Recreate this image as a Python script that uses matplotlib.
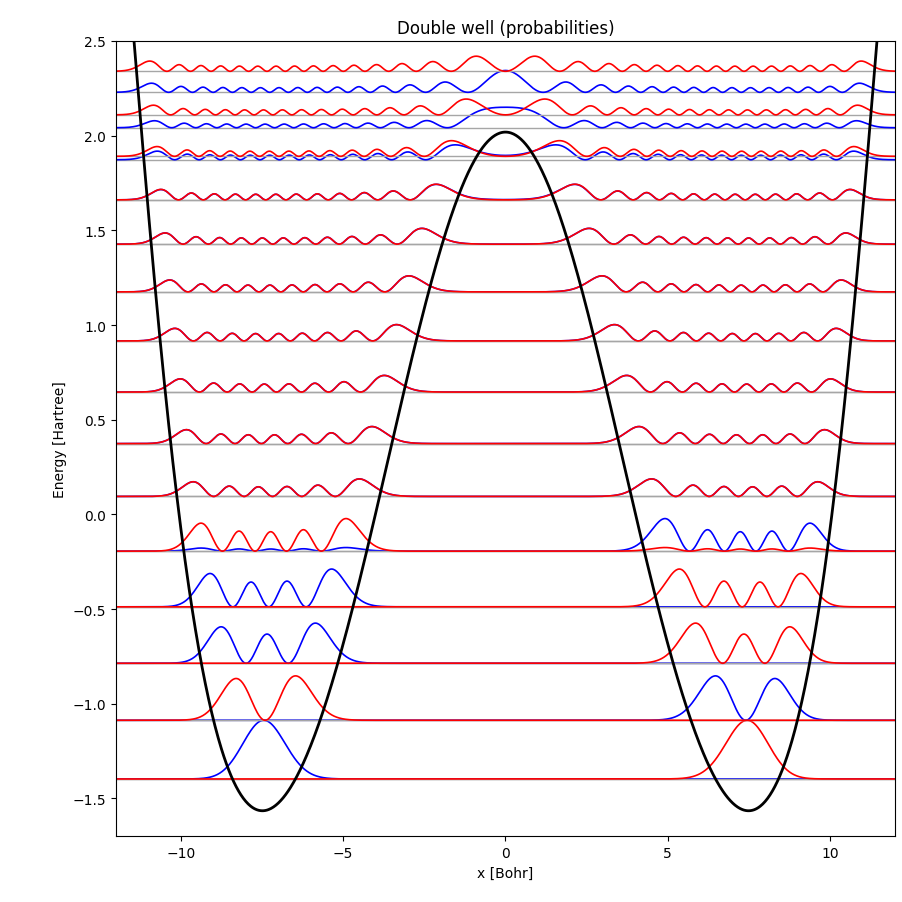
import numpy as np
import matplotlib
matplotlib.use("Agg")
import matplotlib.pyplot as plt

# black potential curve: |x| in Bohr, V in Hartree
pot_x = [0.0, 1.49, 2.93, 3.50, 3.86, 4.27, 4.70, 5.11, 5.71, 6.48, 7.46,
         8.33, 9.00, 9.39, 9.67, 9.91, 10.13, 10.94, 11.04, 11.45]
pot_v = [2.00, 1.66, 0.837, 0.396, 0.093, -0.194, -0.488, -0.786, -1.087, -1.397, -1.559,
         -1.397, -1.087, -0.786, -0.488, -0.194, 0.093, 1.505, 1.664, 2.50]

# gray energy lines, one per state (pairs are near-degenerate)
levels = [-1.397, -1.397, -1.087, -1.087, -0.786, -0.786, -0.488, -0.488,
          -0.194, -0.194, 0.095, 0.095, 0.374, 0.374, 0.646, 0.646,
          0.916, 0.916, 1.175, 1.175, 1.427, 1.427, 1.661, 1.661,
          1.873, 1.891, 2.042, 2.110, 2.229, 2.340]

# share of the blue state of each pair that sits in the left well
blue_left = [1.0, 0.0, 1.0, 1.0, 0.1, 0.5, 0.5, 0.5, 0.5, 0.5, 0.5, 0.5]

mass = 4.0
ground_peak = 0.31   # height of the lowest blue bump above its line

# smooth even curve through the read points
coef = np.polyfit(np.array(pot_x) ** 2, pot_v, 5)
x = np.linspace(-12.5, 12.5, 1001)
dx = x[1] - x[0]
V = np.polyval(coef, x ** 2)

# finite difference hamiltonian, only used for the shapes of the states
n = len(x)
t = 1.0 / (2 * mass * dx ** 2)
H = np.diag(V + 2 * t) - t * np.eye(n, k=1) - t * np.eye(n, k=-1)
E, psi = np.linalg.eigh(H)
psi = psi[:, :len(levels)] / np.sqrt(dx)

states = []
for k, w in enumerate(blue_left):
    sub = np.column_stack([psi[:, 2 * k], psi[:, 2 * k + 1]])
    M = sub.T @ sub[::-1]          # parity inside the pair
    _, rot = np.linalg.eigh(M)
    odd = sub @ rot[:, 0]
    even = sub @ rot[:, 1]
    left = (even + odd) / np.sqrt(2)
    if np.sum(left[x < 0] ** 2) < np.sum(left[x > 0] ** 2):
        odd = -odd
        left = (even + odd) / np.sqrt(2)
    right = (even - odd) / np.sqrt(2)
    states.append(np.sqrt(w) * left + np.sqrt(1 - w) * right)
    states.append(np.sqrt(1 - w) * left - np.sqrt(w) * right)
for i in range(2 * len(blue_left), len(levels)):
    states.append(psi[:, i])

scale = ground_peak / np.max(states[0] ** 2)

fig, ax = plt.subplots(figsize=(9.02, 9.03), dpi=100)
fig.subplots_adjust(left=0.1286, right=0.9922, bottom=0.0727, top=0.9535)

for i, (e, st) in enumerate(zip(levels, states)):
    ax.axhline(e, color='0.65', lw=1)
    ax.plot(x, e + scale * st ** 2, color='b' if i % 2 == 0 else 'r', lw=1.2)
ax.plot(x, V, 'k', lw=2)

ax.set_xlim(-12, 12)
ax.set_ylim(-1.7, 2.5)
ax.set_title("Double well (probabilities)")
ax.set_xlabel("x [Bohr]")
ax.set_ylabel("Energy [Hartree]")

plt.savefig("out.png")
